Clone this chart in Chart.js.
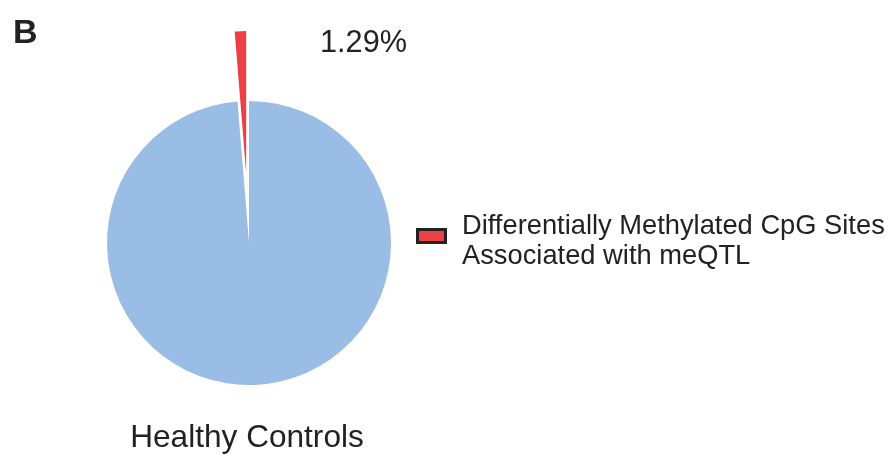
<!DOCTYPE html>
<html>
<head>
<meta charset="utf-8">
<script src="https://cdn.jsdelivr.net/npm/chart.js@4"></script>
<style>
  html, body { margin: 0; padding: 0; background: #fff; }
  #wrap { position: relative; width: 893px; height: 456px; }
</style>
</head>
<body>
<div id="wrap"><canvas id="pie" width="893" height="456"></canvas></div>
<script>
        // 데이터
        const sliceLabels = ['Other CpG Sites', 'Differentially Methylated CpG Sites Associated with meQTL'];
        const sliceValues = [98.71, 1.29];
        const sliceColors = ['#99BDE4', '#EC4044'];
        const explodeDist = [0, 70]; // 조각 분리 거리(px)
        const legendLines = ['Differentially Methylated CpG Sites', 'Associated with meQTL'];
        const panelLetter = 'B';
        const groupTitle = 'Healthy Controls';

        const FONT = '"Liberation Sans", Arial, sans-serif';
        const TEXT_COLOR = '#222222';

        // 조각을 바깥으로 평행 이동 (Chart.js offset은 각도를 줄여서 직접 처리)
        const explodePlugin = {
            id: 'explodePlugin',
            afterUpdate(chart) {
                const meta = chart.getDatasetMeta(0);
                meta.data.forEach((arc, i) => {
                    const d = explodeDist[i];
                    if (!d) return;
                    arc.draw = function (ctx, area) {
                        const mid = (this.startAngle + this.endAngle) / 2;
                        ctx.save();
                        ctx.translate(Math.cos(mid) * d, Math.sin(mid) * d);
                        Chart.ArcElement.prototype.draw.call(this, ctx, area);
                        ctx.restore();
                    };
                });
            }
        };

        // 텍스트, 범례 그리기
        const textPlugin = {
            id: 'textPlugin',
            afterDraw(chart) {
                const ctx = chart.ctx;
                ctx.save();
                ctx.fillStyle = TEXT_COLOR;
                ctx.textBaseline = 'alphabetic';

                // 패널 문자
                ctx.font = 'bold 34px ' + FONT;
                ctx.textAlign = 'left';
                ctx.fillText(panelLetter, 13, 43);

                // 퍼센트 라벨
                ctx.font = '30.7px ' + FONT;
                ctx.fillText(sliceValues[1].toFixed(2) + '%', 320, 52);

                // 그룹 제목
                ctx.font = '31.6px ' + FONT;
                ctx.textAlign = 'center';
                ctx.fillText(groupTitle, 247, 447);

                // 범례 박스
                ctx.fillStyle = '#222222';
                ctx.fillRect(416, 228, 31, 16);
                ctx.fillStyle = sliceColors[1];
                ctx.fillRect(419, 231, 25, 10);

                // 범례 텍스트
                ctx.fillStyle = TEXT_COLOR;
                ctx.font = '27.3px ' + FONT;
                ctx.textAlign = 'left';
                ctx.fillText(legendLines[0], 462, 234);
                ctx.fillText(legendLines[1], 462, 264);
                ctx.restore();
            }
        };

        const ctx = document.getElementById('pie').getContext('2d');
        new Chart(ctx, {
            type: 'pie',
            data: {
                labels: sliceLabels,
                datasets: [{
                    data: sliceValues,
                    backgroundColor: sliceColors,
                    borderWidth: 0,
                    clip: false
                }]
            },
            options: {
                responsive: false,
                animation: false,
                layout: {
                    padding: { left: 107, right: 502, top: 101, bottom: 71 }
                },
                plugins: {
                    legend: { display: false },
                    tooltip: { enabled: false }
                }
            },
            plugins: [explodePlugin, textPlugin]
        });
</script>
</body>
</html>
